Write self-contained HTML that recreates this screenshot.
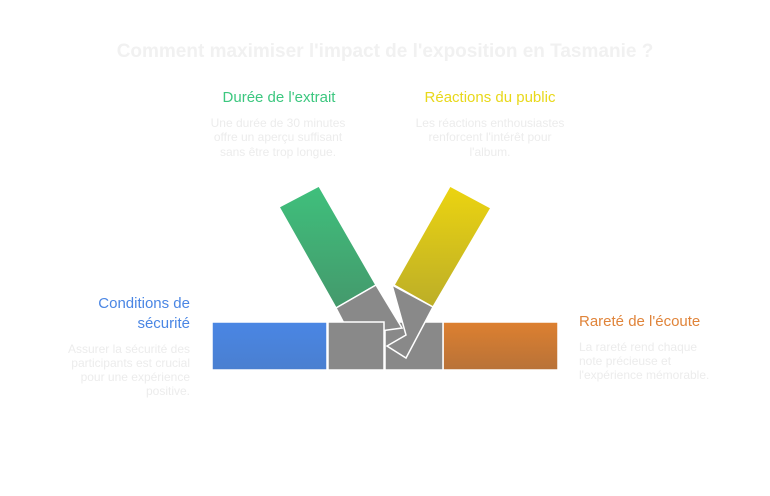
<!DOCTYPE html>
<html><head><meta charset="utf-8"><style>
html,body{margin:0;padding:0;background:#fff;width:770px;height:496px;overflow:hidden}
svg{display:block}
text{font-family:"Liberation Sans",sans-serif}
</style></head><body>
<svg width="770" height="496" viewBox="0 0 770 496">
<defs>
<linearGradient id="gb" x1="0" y1="0" x2="0" y2="1"><stop offset="0" stop-color="#4a86e4"/><stop offset="1" stop-color="#4a7fd0"/></linearGradient>
<linearGradient id="go" x1="0" y1="0" x2="0" y2="1"><stop offset="0" stop-color="#dd8030"/><stop offset="1" stop-color="#b87238"/></linearGradient>
<linearGradient id="gg" x1="0" y1="0" x2="0" y2="1"><stop offset="0" stop-color="#3fc07c"/><stop offset="1" stop-color="#44996c"/></linearGradient>
<linearGradient id="gy" x1="0" y1="0" x2="0" y2="1"><stop offset="0" stop-color="#ecd410"/><stop offset="1" stop-color="#bcae28"/></linearGradient>
</defs>
<text x="385" y="57" text-anchor="middle" font-size="19" font-weight="bold" fill="#f1f1f1">Comment maximiser l'impact de l'exposition en Tasmanie ?</text>
<text x="279" y="102" text-anchor="middle" font-size="15" fill="#3cc77f">Durée de l'extrait</text>
<text x="490" y="102" text-anchor="middle" font-size="15" fill="#e8d81a">Réactions du public</text>
<g font-size="12" fill="#ececec" text-anchor="middle">
<text x="278" y="127">Une durée de 30 minutes</text>
<text x="278" y="141">offre un aperçu suffisant</text>
<text x="278" y="156">sans être trop longue.</text>
<text x="490" y="127">Les réactions enthousiastes</text>
<text x="490" y="141">renforcent l'intérêt pour</text>
<text x="490" y="156">l'album.</text>
</g>
<text x="190" y="308" text-anchor="end" font-size="15" fill="#4a86e4">Conditions de</text>
<text x="190" y="328" text-anchor="end" font-size="15" fill="#4a86e4">sécurité</text>
<g font-size="12" fill="#ececec" text-anchor="end">
<text x="190" y="353">Assurer la sécurité des</text>
<text x="190" y="367">participants est crucial</text>
<text x="190" y="381">pour une expérience</text>
<text x="190" y="395">positive.</text>
</g>
<text x="579" y="326" font-size="15" fill="#e0843a">Rareté de l'écoute</text>
<g font-size="12" fill="#ececec">
<text x="579" y="351">La rareté rend chaque</text>
<text x="579" y="365">note précieuse et</text>
<text x="579" y="379">l'expérience mémorable.</text>
</g>
<g stroke="#fff" stroke-width="1.5">
<rect x="212" y="322" width="115" height="48" fill="url(#gb)"/>
<rect x="443" y="322" width="115" height="48" fill="url(#go)"/>
<polygon points="279,207 319,186 376,285 336,308" fill="url(#gg)"/>
<polygon points="450,186 491,208 433,307 394,285" fill="url(#gy)"/>
<rect x="385" y="322" width="58" height="48" fill="#898989"/>
<polygon points="336,308 376,285 402,328 350,335" fill="#898989"/>
<rect x="328" y="322" width="56" height="48" fill="#898989"/>
<polygon points="392,285 433,307 406,358 387,346 406,335" fill="#898989"/>
</g>
</svg>
</body></html>
